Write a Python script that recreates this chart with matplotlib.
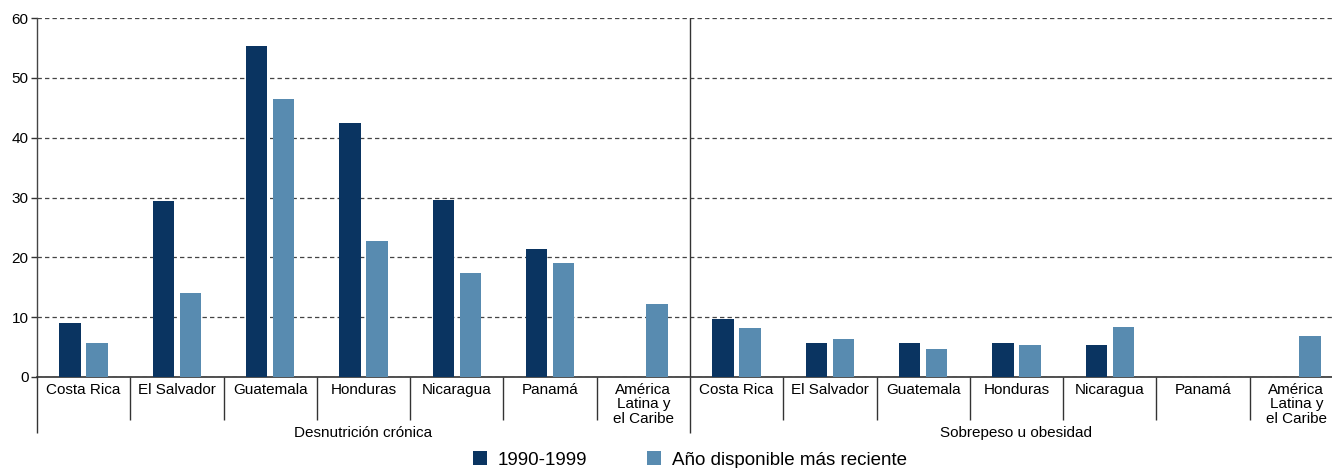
import matplotlib
matplotlib.use("Agg")
import matplotlib.pyplot as plt
import numpy as np
from matplotlib.patches import Patch

plt.rcParams['font.family'] = ['Liberation Sans', 'DejaVu Sans']

groups = ["Desnutrición crónica", "Sobrepeso u obesidad"]
countries = ["Costa Rica", "El Salvador", "Guatemala", "Honduras", "Nicaragua",
             "Panamá", "América\nLatina y\nel Caribe"]
series_names = ["1990-1999", "Año disponible más reciente"]
colors = ["#0a3461", "#588bb0"]

# values per group (NaN = no data)
desn_1990 = [9.0, 29.4, 55.3, 42.5, 29.6, 21.4, np.nan]
desn_recent = [5.6, 14.1, 46.5, 22.8, 17.3, 19.1, 12.2]
sobre_1990 = [9.7, 5.7, 5.6, 5.7, 5.4, np.nan, np.nan]
sobre_recent = [8.2, 6.3, 4.7, 5.3, 8.3, np.nan, 6.9]

yticks = [0, 10, 20, 30, 40, 50, 60]

W, H = 1332, 468
fig = plt.figure(figsize=(W / 100, H / 100), dpi=100)
ax = fig.add_axes([37 / W, (H - 377) / H, (1343 - 37) / W, (377 - 18) / H])

n = len(countries)
v1 = np.array(desn_1990 + sobre_1990, dtype=float)
v2 = np.array(desn_recent + sobre_recent, dtype=float)
centers = np.arange(2 * n) + 0.5
bw = 0.23
off = 0.145
ax.bar(centers - off, np.nan_to_num(v1), width=bw, color=colors[0], zorder=3)
ax.bar(centers + off, np.nan_to_num(v2), width=bw, color=colors[1], zorder=3)

ax.set_xlim(0, 2 * n)
ax.set_ylim(0, 60)
ax.set_yticks(yticks)
ax.set_yticklabels([str(t) for t in yticks], fontsize=11)
ax.tick_params(axis='y', length=4, width=1, color='#333333', pad=2)

ax.grid(axis='y', color='#444444', linewidth=0.9, linestyle=(0, (3.5, 2.5)), zorder=1)
ax.set_axisbelow(True)

for s in ['top', 'right']:
    ax.spines[s].set_visible(False)
ax.spines['left'].set_color('#444444')
ax.spines['bottom'].set_color('#333333')
ax.spines['left'].set_linewidth(1)
ax.spines['bottom'].set_linewidth(1.2)

# divider between groups
ax.axvline(n, color='#333333', linewidth=1, zorder=2)

# x ticks: long at group bounds, shorter between categories
ax.set_xticks([0, n, 2 * n])
ax.set_xticklabels([])
ax.tick_params(axis='x', which='major', length=40, width=1, color='#333333')
minor = [i for i in range(1, 2 * n) if i != n]
ax.set_xticks(minor, minor=True)
ax.tick_params(axis='x', which='minor', length=31, width=1, color='#333333')

trans = ax.get_xaxis_transform()
for gi in range(2):
    for ci, c in enumerate(countries):
        ax.annotate(c, xy=(gi * n + ci + 0.5, 0), xycoords=trans,
                    xytext=(0, -4), textcoords='offset points',
                    ha='center', va='top', fontsize=11, linespacing=1.05,
                    annotation_clip=False)
    ax.annotate(groups[gi], xy=(gi * n + n / 2, 0), xycoords=trans,
                xytext=(0, -40.5), textcoords='offset points',
                ha='center', va='center', fontsize=11, annotation_clip=False)

handles = [Patch(facecolor=colors[0]), Patch(facecolor=colors[1])]
fig.legend(handles, series_names, loc='center', bbox_to_anchor=(0.518, 1 - 460 / H),
           ncol=2, frameon=False, fontsize=13.5, handlelength=0.75, handleheight=0.75,
           handletextpad=0.55, columnspacing=3.2, borderpad=0)

fig.savefig("out.png", dpi=100)
